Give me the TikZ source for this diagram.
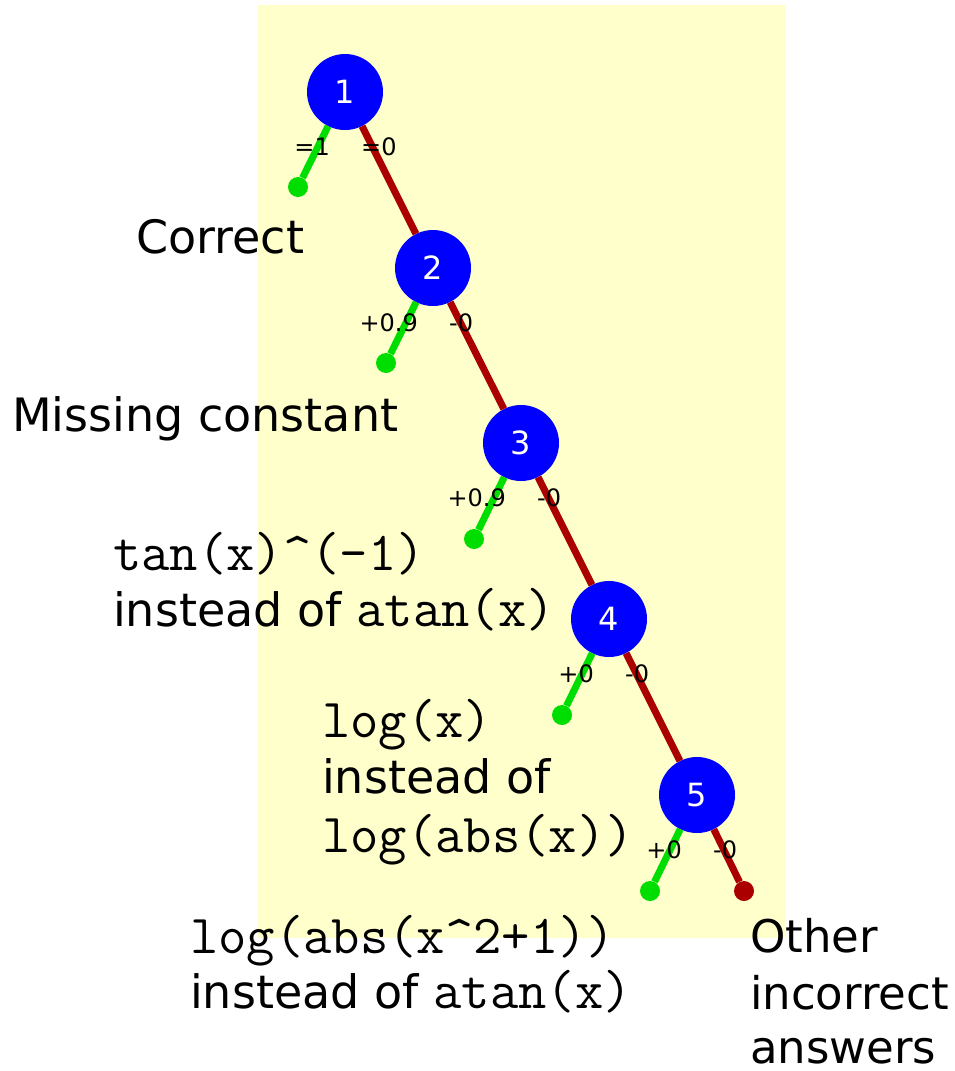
\documentclass[tikz,border=0pt]{standalone}
\usepackage{fontspec}
\setmainfont{DejaVu Sans}
\usetikzlibrary{positioning}

\definecolor{paleyellow}{HTML}{FFFFCC}
\definecolor{okgreen}{HTML}{00DD00}
\definecolor{wrongred}{HTML}{AA0000}

\newcommand{\code}[1]{{\fontsize{55}{56}\ttfamily #1}}

\tikzset{
  choice/.style={circle,fill=blue,text=white,minimum size=76pt,inner sep=0pt,
    font=\fontsize{32}{32}\selectfont},
  leaf/.style={circle,minimum size=20pt,inner sep=0pt},
  okline/.style={okgreen,line width=7pt},
  badline/.style={wrongred,line width=7pt},
  score/.style={inner sep=0pt,font=\fontsize{24}{24}\selectfont},
  caption/.style={inner sep=0pt,anchor=base west,font=\fontsize{46}{56}\selectfont}
}

\begin{document}
\begin{tikzpicture}[x=1pt,y=-1pt]

\useasboundingbox (0,0) rectangle (955,1071);
\fill[paleyellow] (258,5) rectangle (785,938);

% decision nodes
\node[choice] (n1) at (345,92) {1};
\node[choice] (n2) at (433,268) {2};
\node[choice] (n3) at (521,443) {3};
\node[choice] (n4) at (609,619) {4};
\node[choice] (n5) at (697,795) {5};

% end points
\node[leaf,fill=okgreen] (g1) at (298,187) {};
\node[leaf,fill=okgreen] (g2) at (386,363) {};
\node[leaf,fill=okgreen] (g3) at (474,539) {};
\node[leaf,fill=okgreen] (g4) at (562,715) {};
\node[leaf,fill=okgreen] (g5) at (650,891) {};
\node[leaf,fill=wrongred] (r5) at (744,891) {};

\draw[okline] (n1) -- (g1);
\draw[okline] (n2) -- (g2);
\draw[okline] (n3) -- (g3);
\draw[okline] (n4) -- (g4);
\draw[okline] (n5) -- (g5);

\draw[badline] (n1) -- (n2);
\draw[badline] (n2) -- (n3);
\draw[badline] (n3) -- (n4);
\draw[badline] (n4) -- (n5);
\draw[badline] (n5) -- (r5);

% scores
\node[score,anchor=base east] (s1l) at ([shift={(-15,63)}]n1.center) {=1};
\node[score,anchor=base west] (s1r) at ([shift={(16,63)}]n1.center) {=0};
\node[score,anchor=base east] (s2l) at ([shift={(-15,63)}]n2.center) {+0.9};
\node[score,anchor=base west] (s2r) at ([shift={(16,63)}]n2.center) {-0};
\node[score,anchor=base east] (s3l) at ([shift={(-15,63)}]n3.center) {+0.9};
\node[score,anchor=base west] (s3r) at ([shift={(16,63)}]n3.center) {-0};
\node[score,anchor=base east] (s4l) at ([shift={(-15,63)}]n4.center) {+0};
\node[score,anchor=base west] (s4r) at ([shift={(16,63)}]n4.center) {-0};
\node[score,anchor=base east] (s5l) at ([shift={(-15,63)}]n5.center) {+0};
\node[score,anchor=base west] (s5r) at ([shift={(16,63)}]n5.center) {-0};

% answers
\node[caption] (c1) at (136,253) {Correct};
\node[caption] (c2) at (12,431) {Missing constant};
\node[caption] (c3a) at (113,570) {\code{tan(x)\^{}(-1)}};
\node[caption] (c3b) at (113,626) {instead of \code{atan(x)}};
\node[caption] (c4a) at (322,737) {\code{log(x)}};
\node[caption] (c4b) at (322,793) {instead of};
\node[caption] (c4c) at (322,852) {\code{log(abs(x))}};
\node[caption] (c5a) at (190,953) {\code{log(abs(x\^{}2+1))}};
\node[caption] (c5b) at (190,1008) {instead of \code{atan(x)}};
\node[caption,font=\fontsize{45}{56}\selectfont] (c6a) at (750,952) {Other};
\node[caption,font=\fontsize{45}{56}\selectfont] (c6b) at (750,1009) {incorrect};
\node[caption,font=\fontsize{45}{56}\selectfont] (c6c) at (750,1063) {answers};

\end{tikzpicture}
\end{document}
